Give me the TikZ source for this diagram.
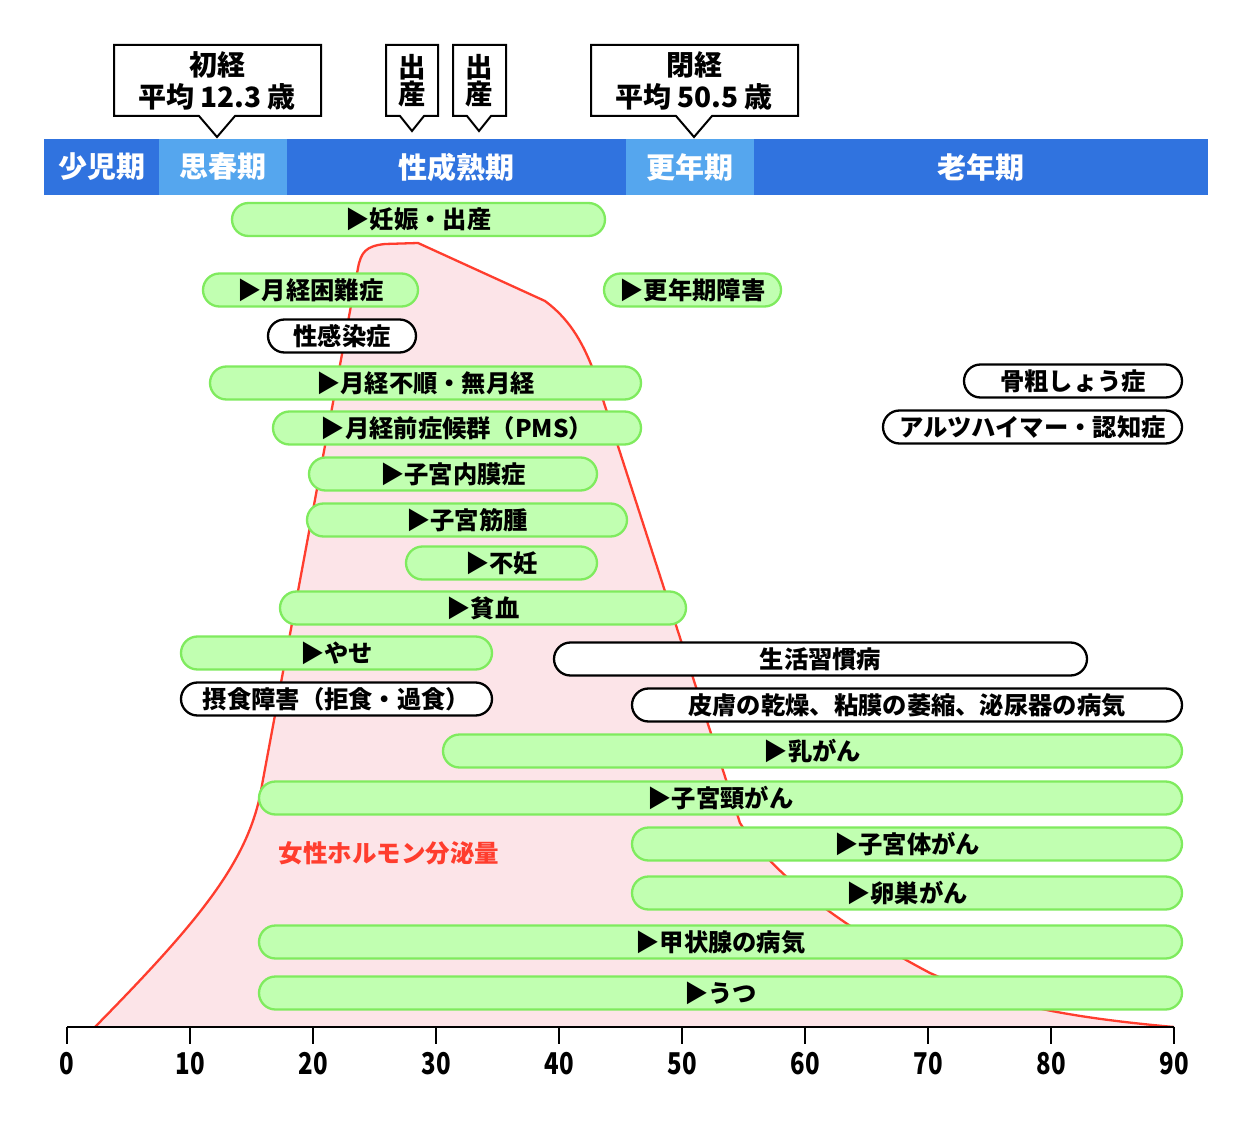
\documentclass[tikz,border=0pt]{standalone}
\usepackage{fontspec}
\setmainfont{Noto Sans CJK JP}
\usepackage{graphicx}
\definecolor{bdark}{HTML}{3073DF}
\definecolor{blight}{HTML}{55A6EE}
\definecolor{gfill}{HTML}{C1FFB1}
\definecolor{gline}{HTML}{7FEB5E}
\definecolor{hred}{HTML}{FF3D2E}
\definecolor{hpink}{HTML}{FCE4E8}
\newcommand\pill[6]{\node[#2, minimum width={#4pt-#3pt}] (#1) at ({(#3+#4)/2},#5) {#6};}
\begin{document}
\begin{tikzpicture}[x=1pt,y=-1pt,
  pillbase/.style={line width=2.3pt, rounded corners=16.5pt, minimum height=33pt, inner sep=0pt,
    font=\fontsize{24.3}{26}\selectfont\bfseries},
  gpill/.style={pillbase, draw=gline, fill=gfill},
  wpill/.style={pillbase, draw=black, fill=white},
  bandbox/.style={inner sep=0pt, minimum height=56pt, text=white, font=\fontsize{29}{30}\selectfont\bfseries},
  callout/.style={draw=black, fill=white, line width=2pt, line join=miter},
  ctext/.style={align=center, inner sep=0pt, font=\fontsize{28}{32}\selectfont\bfseries},
  vtext/.style={align=center, inner sep=0pt, font=\fontsize{27.5}{27}\selectfont\bfseries},
  axisline/.style={line width=2.8pt, black},
  tickline/.style={line width=2.5pt, black},
  numlabel/.style={inner sep=0pt, font=\fontsize{30}{30}\selectfont\bfseries},
  hormone/.style={inner sep=0pt, text=hred, font=\fontsize{24.5}{26}\selectfont\bfseries}
]
\useasboundingbox[fill=white] (0,0) rectangle (1251,1126);

% hormone curve
\filldraw[fill=hpink, draw=hred, line width=2.3pt, line join=round]
  (95,1027) .. controls (200,920) and (250,860) .. (262,785)
  -- (358,268) .. controls (361,252) and (366,246) .. (385,244)
  -- (418,243) -- (545,301) .. controls (568,318) and (582,340) .. (594,372)
  -- (740,823) .. controls (770,870) and (830,920) .. (930,973)
  .. controls (990,1000) and (1050,1016) .. (1174,1027);

% life stage band
\node[bandbox, fill=bdark, minimum width=115pt] (st1) at (101.5,167) {少児期};
\node[bandbox, fill=blight, minimum width=128pt] (st2) at (223,167) {思春期};
\node[bandbox, fill=bdark, minimum width=339pt] (st3) at (456.5,167) {性成熟期};
\node[bandbox, fill=blight, minimum width=128pt] (st4) at (690,167) {更年期};
\node[bandbox, fill=bdark, minimum width=454pt] (st5) at (981,167) {老年期};

% callouts
\draw[callout] (114,45) -- (321,45) -- (321,116) -- (235,116) -- (217,137) -- (199,116) -- (114,116) -- cycle;
\node[ctext] (c1) at (217,81) {初経\\平均 12.3 歳};
\draw[callout] (386,45) -- (438,45) -- (438,116) -- (424,116) -- (412,131) -- (400,116) -- (386,116) -- cycle;
\node[vtext] (c2) at (412,81) {出\\産};
\draw[callout] (453,45) -- (506,45) -- (506,116) -- (491,116) -- (479,131) -- (467,116) -- (453,116) -- cycle;
\node[vtext] (c3) at (479,81) {出\\産};
\draw[callout] (591,45) -- (798,45) -- (798,116) -- (712,116) -- (694,137) -- (676,116) -- (591,116) -- cycle;
\node[ctext] (c4) at (694,81) {閉経\\平均 50.5 歳};

% disease pills
\pill{p1}{gpill}{232}{605}{219.5}{▶妊娠・出産}
\pill{p2}{gpill}{203}{418}{290}{▶月経困難症}
\pill{p3}{gpill}{604}{781}{290}{▶更年期障害}
\pill{p4}{wpill}{268}{416}{336}{性感染症}
\pill{p5}{gpill}{210}{641}{383}{▶月経不順・無月経}
\pill{p6}{wpill}{964}{1182}{381}{骨粗しょう症}
\pill{p7}{gpill}{273}{641}{428}{▶月経前症候群（PMS）}
\pill{p8}{wpill}{883}{1182}{427}{アルツハイマー・認知症}
\pill{p9}{gpill}{309}{597}{474}{▶子宮内膜症}
\pill{p10}{gpill}{307}{627}{520}{▶子宮筋腫}
\pill{p11}{gpill}{406}{597}{563}{▶不妊}
\pill{p12}{gpill}{280}{686}{608}{▶貧血}
\pill{p13}{gpill}{181}{492}{653}{▶やせ}
\pill{p14}{wpill}{554}{1087}{659}{生活習慣病}
\pill{p15}{wpill}{181}{492}{699}{摂食障害（拒食・過食）}
\pill{p16}{wpill}{632}{1182}{705}{皮膚の乾燥、粘膜の萎縮、泌尿器の病気}
\pill{p17}{gpill}{443}{1182}{751}{▶乳がん}
\pill{p18}{gpill}{259}{1182}{798}{▶子宮頸がん}
\pill{p19}{gpill}{632}{1182}{844}{▶子宮体がん}
\pill{p20}{gpill}{632}{1182}{893}{▶卵巣がん}
\pill{p21}{gpill}{259}{1182}{942}{▶甲状腺の病気}
\pill{p22}{gpill}{259}{1182}{993}{▶うつ}

\node[hormone] (hm) at (389,853) {女性ホルモン分泌量};

% axis
\coordinate (a0) at (67,1027);
\coordinate (a90) at (1174,1027);
\draw[axisline] (a0) -- (a90);
\foreach \k in {0,...,9}{
  \coordinate (t\k) at ({67+123*\k},1027);
  \draw[tickline] (t\k) -- ++(0,17);
  \node[numlabel] (n\k) at ({67+123*\k},1064) {\scalebox{0.8}[1]{\the\numexpr\k*10\relax}};
}
\end{tikzpicture}
\end{document}
